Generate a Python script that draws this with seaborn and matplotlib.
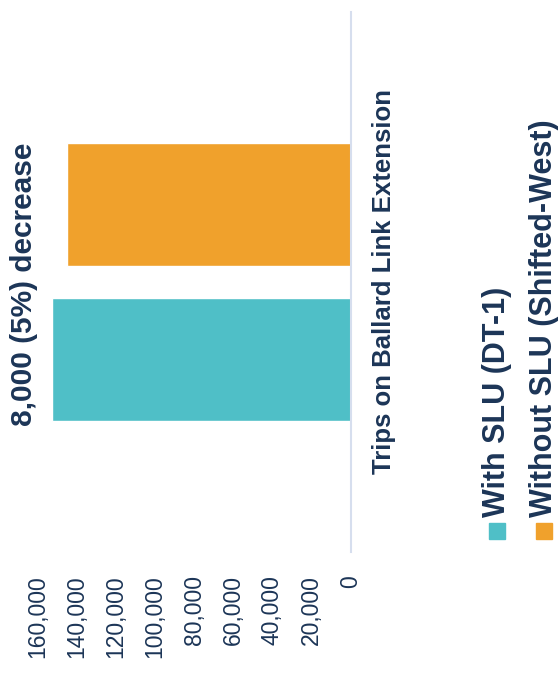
import matplotlib
matplotlib.use("Agg")
import matplotlib.pyplot as plt
import seaborn as sns
import pandas as pd
from matplotlib.patches import Rectangle

# ---- data ----
categories = ["Trips on Ballard Link Extension"]
series = ["With SLU (DT-1)", "Without SLU (Shifted-West)"]
values = [153000, 145000]
colors = ["#4FBFC7", "#F0A12C"]
tick_values = [0, 20000, 40000, 60000, 80000, 100000, 120000, 140000, 160000]
tick_labels = ["0", "20,000", "40,000", "60,000", "80,000", "100,000",
               "120,000", "140,000", "160,000"]
annotation = "8,000 (5%) decrease"

NAVY = "#1C3557"

sns.set_theme(style="white")
plt.rcParams['font.family'] = ['Liberation Sans', 'DejaVu Sans']

W, H = 558, 681
AX_L, AX_R, AX_T, AX_B = 38, 350.5, 12, 552
fig = plt.figure(figsize=(W / 100, H / 100), dpi=100)
ax = fig.add_axes([AX_L / W, 1 - AX_B / H, (AX_R - AX_L) / W, (AX_B - AX_T) / H])

df = pd.DataFrame({
    "category": categories * len(series),
    "series": series,
    "value": values,
})
sns.barplot(data=df, y="category", x="value", hue="series",
            hue_order=series, palette=colors, orient="h", ax=ax,
            width=0.574, gap=0.21, saturation=1, legend=False)

ax.set_ylim(-0.5, 0.5)
ax.set_xlim(160000, 0)
ax.set_xticks(tick_values)
ax.set_xticklabels(tick_labels, rotation=90, fontsize=16.5, color=NAVY)
ax.tick_params(axis="x", length=0, pad=16.5)
ax.set_yticks([])
ax.set_xlabel("")
ax.set_ylabel("")
for s in ["top", "bottom", "left"]:
    ax.spines[s].set_visible(False)
ax.spines["right"].set_visible(True)
ax.spines["right"].set_color("#D6DEEE")
ax.spines["right"].set_linewidth(1.5)

# category label (rotated), right of the axis line
ax.text(1.0 + 22 / (AX_R - AX_L), 0.5, categories[0], transform=ax.transAxes,
        rotation=90, ha="left", va="center", fontsize=18.5,
        fontweight="bold", color=NAVY)

# annotation
fig.text(24 / W, 1 - 284 / H, annotation, rotation=90, ha="center",
         va="center", fontsize=21.5, fontweight="bold", color=NAVY)

# legend (rotated)
leg_x = [497, 544]
for xc, lab, col in zip(leg_x, series, colors):
    fig.patches.append(Rectangle(((xc - 8) / W, 1 - 539 / H), 16 / W, 16 / H,
                                 transform=fig.transFigure, color=col))
    fig.text(xc / W, 1 - 517 / H, lab, rotation=90, ha="center",
             va="bottom", fontsize=22, fontweight="bold", color=NAVY)

fig.savefig("out.png", dpi=100, facecolor="white")
